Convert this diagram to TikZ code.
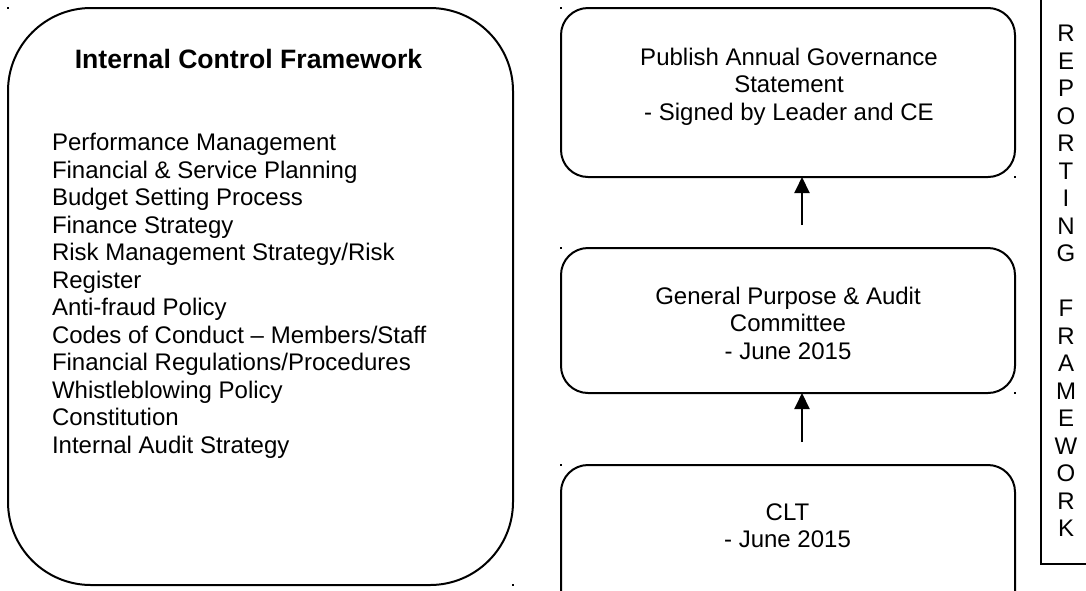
\documentclass[tikz,border=0pt]{standalone}
\usepackage{fontspec}
\setmainfont{Liberation Sans}
\usetikzlibrary{arrows.meta}
\newcommand\diagfont{\fontsize{12}{13.75}\selectfont}
\newcommand\headfont{\fontsize{13.3}{15}\selectfont\bfseries}
\begin{document}
\begin{tikzpicture}[x=0.5pt,y=-0.5pt,
  every node/.style={font=\diagfont, inner sep=0pt, outer sep=0pt},
  bigbox/.style={draw, line width=1pt, rounded corners=41.5pt,
    minimum width=252.5pt, minimum height=288.5pt},
  stepbox/.style={draw, line width=1pt, rounded corners=13.5pt,
    minimum width=227pt},
  framebox/.style={draw, line width=1pt, minimum width=34.5pt,
    minimum height=292pt},
  txt/.style={anchor=base},
  link/.style={line width=1pt, -{Triangle[length=8pt,width=7.5pt]}},
  speck/.style={fill=black, minimum size=1pt, inner sep=0pt}
]
\useasboundingbox (0,0) rectangle (1086,590);
\clip (0,0) rectangle (1086,590);

% internal control framework
\node[bigbox] (icf) at (260.5,296.5) {};
\node[txt, font=\headfont] (icftitle) at (248.5,68)
  {Internal Control Framework};
\node[anchor=base west] (icflist) at (52,150.5) {\begin{tabular}[t]{@{}l@{}}
  Performance Management\\
  Financial \& Service Planning\\
  Budget Setting Process\\
  Finance Strategy\\
  Risk Management Strategy/Risk\\
  Register\\
  Anti-fraud Policy\\
  Codes of Conduct \textendash{} Members/Staff\\
  Financial Regulations/Procedures\\
  Whistleblowing Policy\\
  Constitution\\
  Internal Audit Strategy
\end{tabular}};

% reporting steps
\node[stepbox, minimum height=84.5pt] (ags) at (788,92.5) {};
\node[txt] (agstext) at (789,65) {\begin{tabular}[t]{@{}c@{}}
  Publish Annual Governance\\ Statement\\ - Signed by Leader and CE
\end{tabular}};

\node[stepbox, minimum height=72.5pt] (gpa) at (788,320.5) {};
\node[txt] (gpatext) at (788,304) {\begin{tabular}[t]{@{}c@{}}
  General Purpose \& Audit\\ Committee\\ - June 2015
\end{tabular}};

\node[stepbox, minimum height=90pt] (clt) at (788,555) {};
\node[txt] (clttext) at (787.5,520) {\begin{tabular}[t]{@{}c@{}}
  CLT\\ - June 2015
\end{tabular}};

% arrows
\coordinate (a1) at (802,225);
\coordinate (a2) at (802,442);
\draw[link] (a1) -- (a1 |- ags.south);
\draw[link] (a2) -- (a2 |- gpa.south);

% side frame
\node[framebox] (rf) at (1075.5,272) {};
\node[txt] (rftext) at (1066,41.5) {\begin{tabular}[t]{@{}c@{}}
  R\\E\\P\\O\\R\\T\\I\\N\\G\\ \\F\\R\\A\\M\\E\\W\\O\\R\\K
\end{tabular}};

% corner specks
\node[speck] (s1) at (icf.north west) {};
\node[speck] (s2) at (icf.south east) {};
\node[speck] (s3) at (ags.north west) {};
\node[speck] (s4) at (ags.south east) {};
\node[speck] (s5) at (gpa.north west) {};
\node[speck] (s6) at (gpa.south east) {};
\node[speck] (s7) at (clt.north west) {};
\end{tikzpicture}
\end{document}
